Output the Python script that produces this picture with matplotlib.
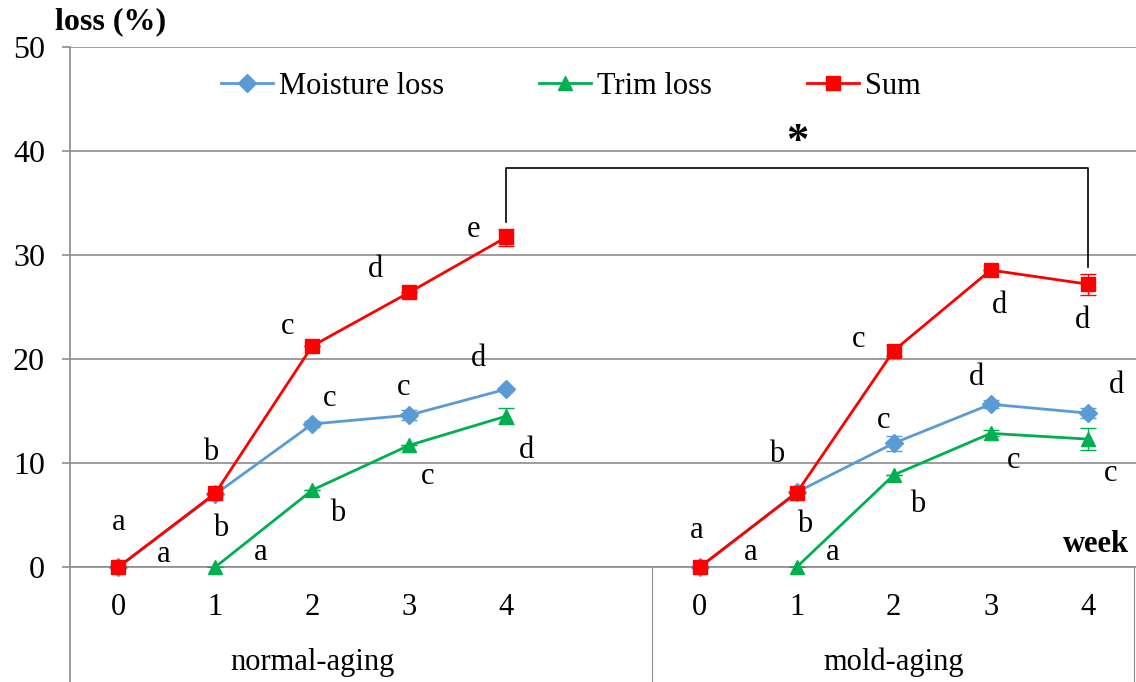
import matplotlib
matplotlib.use("Agg")
import matplotlib.pyplot as plt
from matplotlib.lines import Line2D
import numpy as np

plt.rcParams['font.family'] = ['Liberation Serif', 'DejaVu Serif']

# DATA
weeks = ['0', '1', '2', '3', '4']
groups = ['normal-aging', 'mold-aging']

moist_normal = [0, 7.0, 13.75, 14.6, 17.1]
moist_normal_err = [0, 0, 0.3, 0.5, 0]
trim_normal = [np.nan, 0, 7.4, 11.7, 14.5]
trim_normal_err = [0, 0, 0, 0, 0.75]
sum_normal = [0, 7.1, 21.25, 26.4, 31.7]
sum_normal_err = [0, 0, 0, 0, 0.8]

moist_mold = [0, 7.2, 11.9, 15.65, 14.8]
moist_mold_err = [0, 0, 0.7, 0.4, 0.5]
trim_mold = [np.nan, 0, 8.85, 12.85, 12.3]
trim_mold_err = [0, 0, 0, 0.3, 1.05]
sum_mold = [0, 7.15, 20.8, 28.55, 27.2]
sum_mold_err = [0, 0, 0.5, 0, 1.0]

# significance letters per point
let_moist_normal = ['a', 'b', 'c', 'c', 'd']
let_trim_normal = ['', 'a', 'b', 'c', 'd']
let_sum_normal = ['a', 'b', 'c', 'd', 'e']
let_moist_mold = ['a', 'b', 'c', 'd', 'd']
let_trim_mold = ['', 'a', 'b', 'c', 'c']
let_sum_mold = ['a', 'b', 'c', 'd', 'd']

# letter offsets in pixels (dx, dy)
off_moist_normal = [(45, 12), (5, -34), (17, 26), (-6, 28), (-28, 31)]
off_trim_normal = [(0, 0), (45, 15), (25, -23), (18, -31), (20, -34)]
off_sum_normal = [(0, 45), (-5, 41), (-25, 19), (-34, 23), (-33, 8)]
off_moist_mold = [(51, 15), (8, -32), (-10, 23), (-14, 27), (29, 28)]
off_trim_mold = [(0, 0), (36, 15), (24, -30), (23, -27), (23, -34)]
off_sum_mold = [(-3, 37), (-20, 38), (-35, 11), (9, -35), (-5, -36)]

blue = '#5B9BD5'
green = '#00B050'
red = '#FF0000'
grey = '#8C8C8C'
fs = 22

fig = plt.figure(figsize=(11.36, 6.82), dpi=100)
ax = fig.add_axes([70/1136, 115/682, 1066/1136, 520/682])

x_normal = np.arange(5)
x_mold = np.arange(5) + 6

series = [
    (moist_normal, moist_normal_err, moist_mold, moist_mold_err, blue, 'D', 9, 'Moisture loss'),
    (trim_normal, trim_normal_err, trim_mold, trim_mold_err, green, '^', 10.5, 'Trim loss'),
    (sum_normal, sum_normal_err, sum_mold, sum_mold_err, red, 's', 10.5, 'Sum'),
]
handles = []
for i, (yn, en, ym, em, c, mk, ms, lab) in enumerate(series):
    for xs, ys, es in ((x_normal, yn, en), (x_mold, ym, em)):
        eb = ax.errorbar(xs, ys, yerr=es, color=c, marker=mk, markersize=ms, lw=2,
                         elinewidth=1, capsize=6, capthick=1, zorder=3 + i)
        eb[0].set_clip_on(False)
    handles.append(Line2D([], [], color=c, marker=mk, markersize=ms, lw=2, label=lab))

# letters
letter_sets = [
    (x_normal, moist_normal, let_moist_normal, off_moist_normal),
    (x_normal, trim_normal, let_trim_normal, off_trim_normal),
    (x_normal, sum_normal, let_sum_normal, off_sum_normal),
    (x_mold, moist_mold, let_moist_mold, off_moist_mold),
    (x_mold, trim_mold, let_trim_mold, off_trim_mold),
    (x_mold, sum_mold, let_sum_mold, off_sum_mold),
]
for xs, ys, lets, offs in letter_sets:
    for xv, yv, l, (dx, dy) in zip(xs, ys, lets, offs):
        if l:
            ax.annotate(l, (xv, yv), xytext=(dx * 0.72, dy * 0.72), textcoords='offset points',
                        ha='center', va='center', fontsize=fs, zorder=10)

ax.set_xlim(-0.5, 10.5)
ax.set_ylim(0, 50)
ax.set_yticks([0, 10, 20, 30, 40, 50])
ax.yaxis.grid(True, color=grey, lw=1.2)
ax.set_axisbelow(True)
ax.tick_params(axis='y', labelsize=fs + 1, length=6, color=grey, width=1.2, pad=12)
ax.set_xticks(list(x_normal) + list(x_mold))
ax.set_xticklabels(weeks + weeks)
ax.tick_params(axis='x', labelsize=fs, length=0, pad=19)
for s in ['top', 'right']:
    ax.spines[s].set_visible(False)
ax.spines['left'].set_color(grey)
ax.spines['bottom'].set_color(grey)
ax.spines['left'].set_linewidth(1.2)
ax.spines['bottom'].set_linewidth(1.2)

# category separators below axis
lo = -115 / 520
for xf in [0, (652 - 70) / 1066, (1134 - 70) / 1066]:
    ax.add_line(Line2D([xf, xf], [0, lo], transform=ax.transAxes, color=grey,
                       lw=1.2 if xf == 0 else 0.8, clip_on=False))
ax.text(2, -0.183, groups[0], transform=ax.get_xaxis_transform(), ha='center', va='center', fontsize=fs)
ax.text(8, -0.183, groups[1], transform=ax.get_xaxis_transform(), ha='center', va='center', fontsize=fs)

# axis titles
fig.text(55/1136, 1 - 22/682, 'loss (%)', fontsize=fs + 1, fontweight='bold', ha='left', va='center')
fig.text(1129/1136, 1 - 545/682, 'week', fontsize=fs, fontweight='bold', ha='right', va='center')

# significance bracket
yb = 38.4
ax.plot([4, 4, 10, 10], [33.2, yb, yb, 28.8], color='black', lw=1.2, zorder=5)
ax.text(7, yb + 0.5, '*', ha='center', va='bottom', fontsize=32, fontweight='bold')

ax.legend(handles=handles, loc='center', bbox_to_anchor=(0.47, 0.925), ncol=3, frameon=False,
          fontsize=fs, handlelength=1.7, columnspacing=3.1, handletextpad=0.2)

fig.savefig('out.png', dpi=100)
